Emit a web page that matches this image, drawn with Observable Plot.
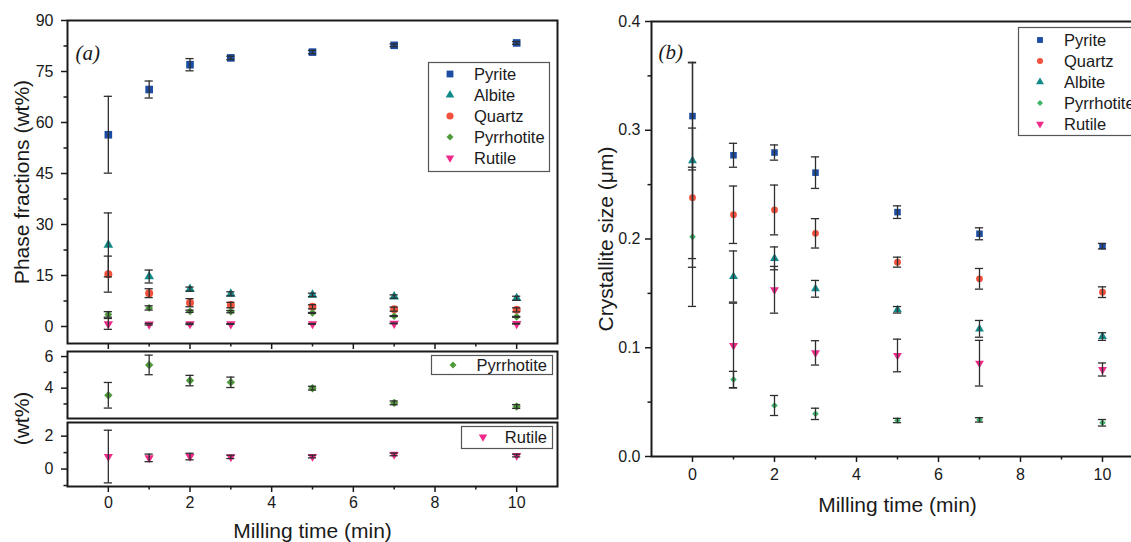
<!DOCTYPE html>
<html><head><meta charset="utf-8">
<script src="https://cdn.jsdelivr.net/npm/d3@7"></script>
<script src="https://cdn.jsdelivr.net/npm/@observablehq/plot@0.6"></script>
<style>
html,body{margin:0;padding:0;background:#fff;overflow:hidden;width:1131px;height:542px;}
#root{position:relative;width:1131px;height:542px;overflow:hidden;}
</style></head><body><div id="root"></div>
<script>
// ---------- data ----------
const times = [0, 1, 2, 3, 5, 7, 10];
const legendOrderA = ["Pyrite", "Albite", "Quartz", "Pyrrhotite", "Rutile"];
const legendOrderB = ["Pyrite", "Quartz", "Albite", "Pyrrhotite", "Rutile"];
// panel (a): phase fractions (wt%)
const aPyrite = [56.4, 69.7, 77.0, 79.0, 80.7, 82.7, 83.4];
const aPyriteErr = [11.3, 2.5, 1.8, 0.5, 0.5, 0.4, 0.4];
const aAlbite = [24.0, 14.7, 11.0, 9.6, 9.3, 8.8, 8.3];
const aAlbiteErr = [9.4, 1.9, 0.6, 0.6, 0.5, 0.5, 0.6];
const aQuartz = [15.4, 9.8, 7.0, 6.3, 5.8, 5.1, 4.9];
const aQuartzErr = [5.3, 1.3, 1.2, 0.8, 0.6, 0.6, 0.6];
const aPyrrhotite = [3.55, 5.47, 4.48, 4.37, 4.0, 3.07, 2.84];
const aPyrrhotiteErr = [0.81, 0.62, 0.33, 0.33, 0.12, 0.12, 0.12];
const aRutile = [0.76, 0.68, 0.76, 0.74, 0.76, 0.89, 0.82];
const aRutileErr = [1.6, 0.23, 0.2, 0.1, 0.08, 0.08, 0.08];
// panel (b): crystallite size (um)
const bPyrite = [0.313, 0.277, 0.2795, 0.261, 0.2247, 0.2048, 0.1934];
const bPyriteErr = [0.0495, 0.011, 0.007, 0.0145, 0.0058, 0.0055, 0.0025];
const bQuartz = [0.238, 0.2223, 0.2267, 0.2052, 0.1787, 0.1634, 0.1511];
const bQuartzErr = [0.064, 0.0264, 0.0229, 0.0135, 0.0046, 0.0095, 0.0049];
const bAlbite = [0.272, 0.1655, 0.1822, 0.1542, 0.1349, 0.1174, 0.1103];
const bAlbiteErr = [0.090, 0.0235, 0.0105, 0.0077, 0.003, 0.0077, 0.0035];
const bPyrrhotite = [0.202, 0.0708, 0.0469, 0.0392, 0.0331, 0.0337, 0.031];
const bPyrrhotiteErr = [0.064, 0.0075, 0.0092, 0.0052, 0.002, 0.002, 0.003];
const bRutile = [null, 0.102, 0.1533, 0.0953, 0.0929, 0.0858, 0.080];
const bRutileErr = [null, 0.039, 0.0215, 0.0112, 0.015, 0.021, 0.006];
// ticks
const aTopTicks = [0, 15, 30, 45, 60, 75, 90];
const aTopMinor = [7.5, 22.5, 37.5, 52.5, 67.5, 82.5];
const aMidTicks = [4, 6], aMidMinor = [3, 5];
const aLowTicks = [0, 2], aLowMinor = [-1, 1];
const xTicks = [0, 2, 4, 6, 8, 10], xMinor = [1, 3, 5, 7, 9];
const bTicks = [0, 0.1, 0.2, 0.3, 0.4], bMinor = [0.05, 0.15, 0.25, 0.35];

// ---------- style ----------
const FONT = '"Liberation Sans", Arial, Helvetica, sans-serif';
const SERIF = '"Liberation Serif", "Times New Roman", serif';
const INK = "#1a1a1a", BAR = "#2e2e2e";
const colA = {Pyrite: "#1c4da3", Albite: "#128a8a", Quartz: "#f2513d", Pyrrhotite: "#4f9a3b", Rutile: "#f02a8b"};
const colB = {Pyrite: "#1c4da3", Albite: "#128a8a", Quartz: "#f2513d", Pyrrhotite: "#3fb56c", Rutile: "#f02a8b"};
const triangleDown = {draw(ctx, size) {
  const y = -Math.sqrt(size / (3 * Math.sqrt(3)));
  ctx.moveTo(0, -2 * y); ctx.lineTo(-Math.sqrt(3) * y, y); ctx.lineTo(Math.sqrt(3) * y, y); ctx.closePath();
}};
const symA = {Pyrite: ["square", 4.3], Albite: ["triangle", 3.6], Quartz: ["circle", 4.0], Pyrrhotite: ["diamond2", 3.5], Rutile: [triangleDown, 3.5]};
const symB = {Pyrite: ["square", 3.7], Albite: ["triangle", 3.3], Quartz: ["circle", 3.4], Pyrrhotite: ["diamond2", 3.0], Rutile: [triangleDown, 3.3]};

const rows = (vals, errs) => times.map((t, i) => ({t, v: vals[i], e: errs[i]})).filter(d => d.v != null);
const seriesA = {Pyrite: rows(aPyrite, aPyriteErr), Albite: rows(aAlbite, aAlbiteErr), Quartz: rows(aQuartz, aQuartzErr), Pyrrhotite: rows(aPyrrhotite, aPyrrhotiteErr), Rutile: rows(aRutile, aRutileErr)};
const seriesB = {Pyrite: rows(bPyrite, bPyriteErr), Quartz: rows(bQuartz, bQuartzErr), Albite: rows(bAlbite, bAlbiteErr), Pyrrhotite: rows(bPyrrhotite, bPyrrhotiteErr), Rutile: rows(bRutile, bRutileErr)};

function dots(data, name, col, sym) {
  return Plot.dot(data, {x: "t", y: "v", symbol: sym[name][0], r: sym[name][1], fill: col[name], stroke: "none"});
}
function errs(data) {
  const cap = 0.1;
  return [
    Plot.ruleX(data, {x: "t", y1: d => d.v - d.e, y2: d => d.v + d.e, stroke: BAR, strokeWidth: 1.3}),
    Plot.ruleY(data, {y: d => d.v - d.e, x1: d => d.t - cap, x2: d => d.t + cap, stroke: BAR, strokeWidth: 1.3}),
    Plot.ruleY(data, {y: d => d.v + d.e, x1: d => d.t - cap, x2: d => d.t + cap, stroke: BAR, strokeWidth: 1.3})
  ];
}
const svgStyle = {fontFamily: FONT, fontSize: "16px", color: INK, background: "transparent", overflow: "visible", maxWidth: "none"};
const none = () => "";

const root = document.getElementById("root");
function place(el, left, top) {
  el.style.position = "absolute"; el.style.left = left + "px"; el.style.top = top + "px";
  root.appendChild(el);
}
function yAxes(major, minor, fmt, pad) {
  return [
    Plot.axisY({ticks: major, tickSize: 6, tickPadding: pad, tickFormat: fmt, label: null, strokeWidth: 1.5}),
    Plot.axisY({ticks: minor, tickSize: 3.5, tickFormat: none, label: null, strokeWidth: 1.5})
  ];
}
function xAxes(labels, pad) {
  return [
    Plot.axisX({ticks: xTicks, tickSize: 6, tickPadding: pad, tickFormat: labels ? (d => d) : none, label: null, strokeWidth: 1.5}),
    Plot.axisX({ticks: xMinor, tickSize: 3.5, tickFormat: none, label: null, strokeWidth: 1.5})
  ];
}
const title = (s, opts) => Plot.text([s], {text: d => d, textAnchor: "middle", lineAnchor: "middle", fontSize: 21, ...opts});

// ---------- panel (a) top ----------
const aTop = Plot.plot({
  width: 570, height: 350, marginLeft: 67, marginRight: 13, marginTop: 20, marginBottom: 7,
  style: svgStyle,
  x: {domain: [-1, 11]}, y: {domain: [-5, 90]},
  marks: [
    ...yAxes(aTopTicks, aTopMinor, d => d, 8),
    ...xAxes(false, 3),
    ...legendOrderA.map(n => dots(seriesA[n], n, colA, symA)),
    ...legendOrderA.flatMap(n => errs(seriesA[n])),
    Plot.frame({stroke: INK, strokeWidth: 2}),
    title("Phase fractions (wt%)", {frameAnchor: "left", dx: -45, rotate: -90}),
    Plot.text(["(a)"], {text: d => d, frameAnchor: "top-left", dx: 8, dy: 25, textAnchor: "start", fontFamily: SERIF, fontStyle: "italic", fontSize: 21})
  ]
});
place(aTop, 0, 0);

// ---------- panel (a) middle: Pyrrhotite ----------
const aMid = Plot.plot({
  width: 570, height: 80, marginLeft: 67, marginRight: 13, marginTop: 7, marginBottom: 6,
  style: svgStyle,
  x: {domain: [-1, 11], axis: null}, y: {domain: [2.08, 6.32]},
  marks: [
    ...yAxes(aMidTicks, aMidMinor, d => d, 8),
    dots(seriesA.Pyrrhotite, "Pyrrhotite", colA, {Pyrrhotite: ["diamond2", 3.8]}),
    ...errs(seriesA.Pyrrhotite),
    Plot.frame({stroke: INK, strokeWidth: 2}),
    title("(wt%)", {frameAnchor: "bottom-left", dx: -45, rotate: -90})
  ]
});
place(aMid, 0, 344);

// ---------- panel (a) bottom: Rutile ----------
const aLow = Plot.plot({
  width: 570, height: 124, marginLeft: 67, marginRight: 13, marginTop: 4, marginBottom: 56,
  style: svgStyle,
  x: {domain: [-1, 11]}, y: {domain: [-1.06, 2.83]},
  marks: [
    ...yAxes(aLowTicks, aLowMinor, d => d, 8),
    ...xAxes(true, 4),
    dots(seriesA.Rutile, "Rutile", colA, {Rutile: [triangleDown, 3.4]}),
    ...errs(seriesA.Rutile),
    Plot.frame({stroke: INK, strokeWidth: 2}),
    title("Milling time (min)", {frameAnchor: "bottom", dy: 45})
  ]
});
place(aLow, 0, 418);

// ---------- panel (b) ----------
const pb = Plot.plot({
  width: 600, height: 542, marginLeft: 91, marginRight: 17, marginTop: 21, marginBottom: 86,
  style: svgStyle,
  x: {domain: [-1, 11]}, y: {domain: [0, 0.4]},
  marks: [
    ...yAxes(bTicks, bMinor, d3.format(".1f"), 5),
    ...xAxes(true, 6),
    ...legendOrderB.map(n => dots(seriesB[n], n, colB, symB)),
    ...legendOrderB.flatMap(n => errs(seriesB[n])),
    Plot.frame({stroke: INK, strokeWidth: 2}),
    title("Crystallite size (\u03bcm)", {frameAnchor: "left", dx: -45, rotate: -90}),
    title("Milling time (min)", {frameAnchor: "bottom", dy: 49}),
    Plot.text(["(b)"], {text: d => d, frameAnchor: "top-left", dx: 7, dy: 23, textAnchor: "start", fontFamily: SERIF, fontStyle: "italic", fontSize: 21})
  ]
});
place(pb, 560, 0);

// ---------- legends ----------
function legend(names, col, sym, x, y, w, h, row0, rowH, mx, textEnd) {
  const svg = d3.create("svg").attr("width", w + 2).attr("height", h + 2)
    .style("overflow", "visible").style("font-family", FONT).style("font-size", "16.5px");
  svg.append("rect").attr("x", 0.5).attr("y", 0.5).attr("width", w).attr("height", h)
    .attr("fill", "#fff").attr("stroke", "#555").attr("stroke-width", 1.2);
  names.forEach((n, i) => {
    const cy = row0 + i * rowH;
    const [s, r] = sym[n];
    const type = s === "square" ? d3.symbolSquare : s === "triangle" ? d3.symbolTriangle : s === "circle" ? d3.symbolCircle : s === "diamond2" ? d3.symbolDiamond2 : s;
    svg.append("path").attr("d", d3.symbol(type, r * r * Math.PI * 0.8)()).attr("transform", `translate(${mx},${cy})`).attr("fill", col[n]);
    const t = svg.append("text").attr("y", cy).attr("dy", "0.36em").attr("fill", INK).text(n);
    if (textEnd) t.attr("x", w - 5).attr("text-anchor", "end"); else t.attr("x", 46);
  });
  place(svg.node(), x, y);
}
legend(legendOrderA, colA, symA, 428, 62, 121, 109, 12, 21, 22, false);
legend(legendOrderB, colB, symB, 1018, 27, 140, 108, 13, 21, 22, false);
legend(["Pyrrhotite"], colA, {Pyrrhotite: ["diamond2", 3.5]}, 431, 355, 121, 19, 10, 0, 22, true);
legend(["Rutile"], colA, {Rutile: [triangleDown, 3.5]}, 461, 426, 91, 22, 11, 0, 22, true);
</script></body></html>
